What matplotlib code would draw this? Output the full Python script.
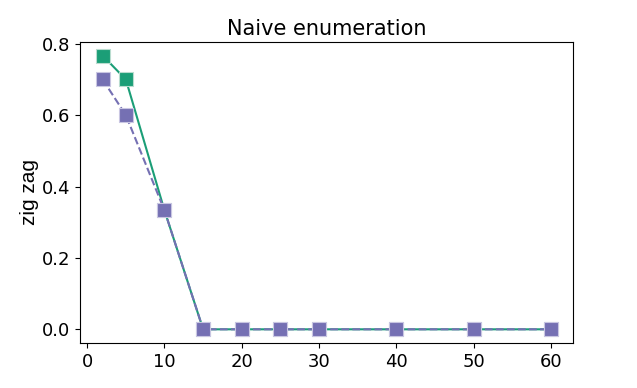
import matplotlib
matplotlib.use("Agg")
import matplotlib.pyplot as plt

x = [2, 5, 10, 15, 20, 25, 30, 40, 50, 60]
green_vals = [0.767, 0.7, 0.333, 0, 0, 0, 0, 0, 0, 0]
purple_vals = [0.7, 0.6, 0.333, 0, 0, 0, 0, 0, 0, 0]

fig = plt.figure(figsize=(6.37, 3.88), dpi=100)
ax = fig.add_axes([0.126, 0.116, 0.774, 0.776])

ax.plot(x, green_vals, color='#1b9e77', linestyle='-', marker='s', markersize=10,
        markeredgecolor='#b9dccf', markeredgewidth=0.8, linewidth=1.5)
ax.plot(x, purple_vals, color='#7570b3', linestyle='--', marker='s', markersize=10,
        markeredgecolor='#c9c6e2', markeredgewidth=0.8, linewidth=1.5)

ax.set_title('Naive enumeration', fontsize=15, pad=5)
ax.set_ylabel('zig zag', fontsize=15, family='Liberation Sans', labelpad=2)
ax.set_yticks([0.0, 0.2, 0.4, 0.6, 0.8])
ax.set_xticks([0, 10, 20, 30, 40, 50, 60])
ax.tick_params(labelsize=13)

fig.savefig('out.png', dpi=100)
